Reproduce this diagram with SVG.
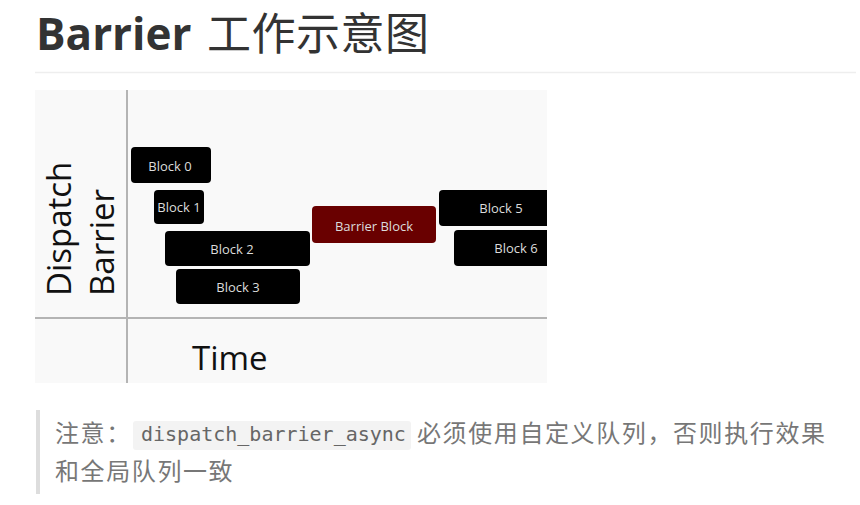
<svg xmlns="http://www.w3.org/2000/svg" width="860" height="505" viewBox="0 0 860 505">
<style>
.blk{fill:#000;}
.bt{font-family:"Open Sans","Liberation Sans",sans-serif;font-size:13px;fill:#dcdcdc;text-anchor:middle;}
.ax{stroke:#b4b4b4;stroke-width:2;}
.big{font-family:"Open Sans","Liberation Sans",sans-serif;font-size:33px;fill:#111;}
.cn{font-family:"Noto Sans CJK SC","Noto Sans",sans-serif;font-size:24px;fill:#777;letter-spacing:1.6px;}
</style>
<rect width="860" height="505" fill="#fff"/>
<text x="36" y="50" font-family="'Open Sans','Noto Sans CJK SC',sans-serif" font-size="44" font-weight="bold" fill="#333">Barrier<tspan x="207" font-weight="normal" font-family="'Noto Sans CJK SC',sans-serif" font-size="44" letter-spacing="0.5">工作示意图</tspan></text>
<line x1="35" y1="72.5" x2="856" y2="72.5" stroke="#eee" stroke-width="1.5"/>
<g id="chart">
<rect x="35" y="90" width="512" height="293" fill="#f9f9f9"/>
<g id="axes">
<line class="ax" x1="127" y1="90" x2="127" y2="383"/>
<line class="ax" x1="35" y1="318" x2="547" y2="318"/>
</g>
<text class="big" transform="translate(71,296) rotate(-90)">Dispatch</text>
<text class="big" transform="translate(114,296) rotate(-90)">Barrier</text>
<text class="big" x="192" y="370">Time</text>
</g>
<g id="block0"><rect class="blk" x="131" y="147" width="80" height="36" rx="4"/><text class="bt" x="170" y="171">Block 0</text></g>
<g id="block1"><rect class="blk" x="154" y="190" width="50" height="34" rx="4"/><text class="bt" x="179" y="212">Block 1</text></g>
<g id="block2"><rect class="blk" x="165" y="231" width="145" height="35" rx="4"/><text class="bt" x="232" y="254">Block 2</text></g>
<g id="block3"><rect class="blk" x="176" y="269" width="124" height="35" rx="4"/><text class="bt" x="238" y="292">Block 3</text></g>
<g id="barrier"><rect x="312" y="206" width="124" height="37" rx="4" fill="#690000"/><text class="bt" x="374" y="231">Barrier Block</text></g>
<g id="block5"><rect class="blk" x="439" y="190" width="108" height="36" rx="4"/><rect class="blk" x="540" y="190" width="7" height="36"/><text class="bt" x="501" y="213">Block 5</text></g>
<g id="block6"><rect class="blk" x="454" y="230" width="93" height="36" rx="4"/><rect class="blk" x="540" y="230" width="7" height="36"/><text class="bt" x="516" y="253">Block 6</text></g>
<g id="note">
<rect x="36" y="410" width="4" height="84" fill="#ddd"/>
<rect x="133" y="421" width="278" height="29" rx="3" fill="#f3f3f3"/>
<text class="cn" x="55" y="442">注意：</text>
<text x="141" y="441" font-family="'DejaVu Sans Mono','Liberation Mono',monospace" font-size="20" fill="#666">dispatch_barrier_async</text>
<text class="cn" x="417" y="442">必须使用自定义队列，否则执行效果</text>
<text class="cn" x="55" y="480">和全局队列一致</text>
</g>
</svg>
